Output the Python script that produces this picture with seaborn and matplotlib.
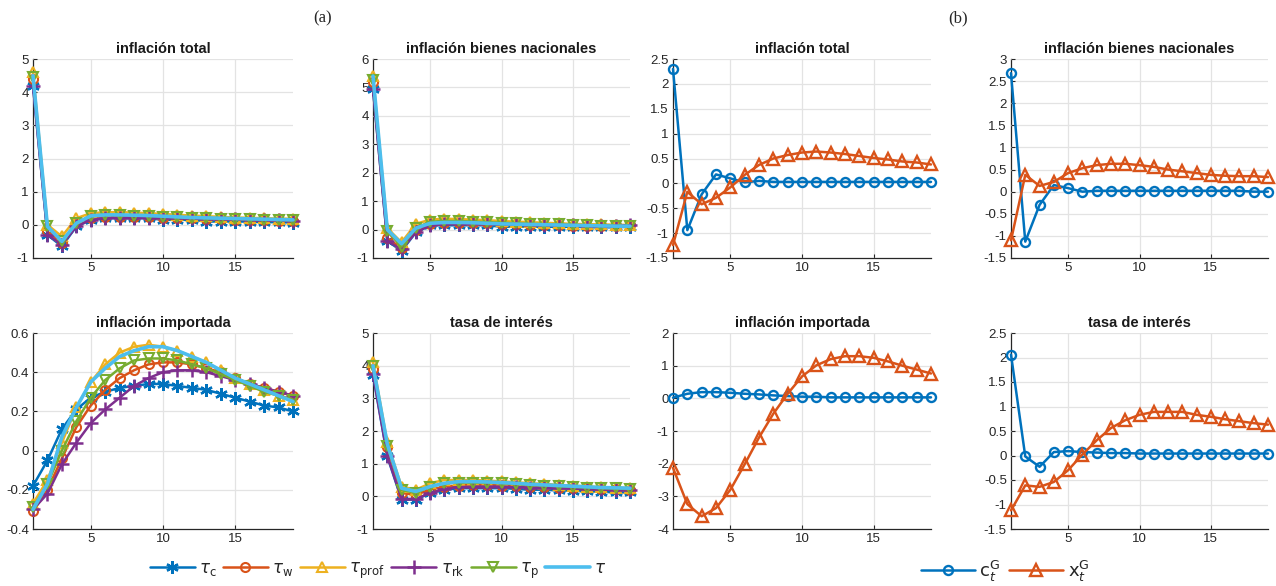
import numpy as np
import pandas as pd
import matplotlib
matplotlib.use("Agg")
import matplotlib.pyplot as plt
import seaborn as sns

# ---------------- data ----------------
periods = list(range(1, 20))

# (a) panel: inflación total
a_total_c    = [4.2, -0.3, -0.65, -0.05, 0.15, 0.2, 0.2, 0.2, 0.2, 0.15, 0.15, 0.15, 0.1, 0.1, 0.1, 0.1, 0.08, 0.08, 0.07]
a_total_w    = [4.4, -0.2, -0.55, 0.05, 0.22, 0.25, 0.25, 0.25, 0.25, 0.22, 0.2, 0.2, 0.18, 0.17, 0.16, 0.15, 0.14, 0.13, 0.12]
a_total_prof = [4.6, 0.0, -0.35, 0.2, 0.35, 0.38, 0.38, 0.37, 0.35, 0.33, 0.3, 0.28, 0.26, 0.24, 0.22, 0.21, 0.2, 0.19, 0.18]
a_total_rk   = [4.2, -0.3, -0.6, -0.05, 0.15, 0.2, 0.22, 0.22, 0.22, 0.2, 0.2, 0.2, 0.18, 0.18, 0.17, 0.16, 0.15, 0.14, 0.13]
a_total_p    = [4.45, -0.05, -0.5, 0.05, 0.28, 0.3, 0.3, 0.28, 0.27, 0.25, 0.23, 0.22, 0.2, 0.19, 0.18, 0.17, 0.16, 0.15, 0.14]
a_total_tau  = [4.5, -0.05, -0.5, 0.05, 0.27, 0.3, 0.3, 0.29, 0.28, 0.26, 0.24, 0.22, 0.21, 0.2, 0.19, 0.18, 0.17, 0.16, 0.15]

# (a) panel: inflación bienes nacionales
a_nac_c    = [4.95, -0.4, -0.75, -0.1, 0.15, 0.15, 0.15, 0.15, 0.15, 0.1, 0.1, 0.1, 0.1, 0.1, 0.1, 0.08, 0.08, 0.08, 0.1]
a_nac_w    = [5.2, -0.3, -0.65, 0.0, 0.2, 0.22, 0.22, 0.22, 0.22, 0.2, 0.18, 0.17, 0.16, 0.15, 0.14, 0.13, 0.12, 0.12, 0.15]
a_nac_prof = [5.4, 0.05, -0.45, 0.2, 0.35, 0.38, 0.37, 0.35, 0.33, 0.3, 0.28, 0.26, 0.24, 0.22, 0.2, 0.19, 0.18, 0.17, 0.16]
a_nac_rk   = [4.95, -0.4, -0.7, -0.1, 0.15, 0.2, 0.2, 0.2, 0.2, 0.18, 0.18, 0.17, 0.16, 0.16, 0.15, 0.14, 0.13, 0.13, 0.15]
a_nac_p    = [5.25, -0.05, -0.6, 0.05, 0.28, 0.3, 0.3, 0.28, 0.26, 0.24, 0.22, 0.2, 0.19, 0.18, 0.16, 0.15, 0.14, 0.13, 0.12]
a_nac_tau  = [5.4, 0.0, -0.5, 0.05, 0.22, 0.25, 0.25, 0.24, 0.22, 0.2, 0.19, 0.18, 0.17, 0.16, 0.15, 0.14, 0.13, 0.12, 0.12]

# (a) panel: inflación importada
a_imp_c    = [-0.18, -0.05, 0.11, 0.21, 0.27, 0.30, 0.32, 0.33, 0.34, 0.34, 0.33, 0.32, 0.31, 0.29, 0.27, 0.25, 0.23, 0.22, 0.20]
a_imp_w    = [-0.31, -0.2, -0.04, 0.12, 0.23, 0.31, 0.37, 0.41, 0.44, 0.45, 0.45, 0.44, 0.42, 0.40, 0.37, 0.34, 0.32, 0.30, 0.28]
a_imp_prof = [-0.27, -0.15, 0.04, 0.22, 0.35, 0.44, 0.50, 0.53, 0.54, 0.53, 0.51, 0.48, 0.45, 0.41, 0.37, 0.34, 0.31, 0.28, 0.26]
a_imp_rk   = [-0.30, -0.22, -0.07, 0.04, 0.14, 0.21, 0.27, 0.33, 0.37, 0.40, 0.41, 0.41, 0.40, 0.38, 0.36, 0.34, 0.32, 0.30, 0.28]
a_imp_p    = [-0.29, -0.17, 0.0, 0.15, 0.27, 0.36, 0.42, 0.46, 0.47, 0.47, 0.46, 0.44, 0.42, 0.39, 0.36, 0.33, 0.30, 0.28, 0.26]
a_imp_tau  = [-0.30, -0.17, 0.07, 0.22, 0.35, 0.42, 0.48, 0.51, 0.53, 0.53, 0.51, 0.48, 0.45, 0.41, 0.37, 0.34, 0.31, 0.28, 0.25]

# (a) panel: tasa de interés
a_int_c    = [3.72, 1.22, -0.1, -0.1, 0.1, 0.2, 0.25, 0.25, 0.25, 0.25, 0.23, 0.2, 0.2, 0.18, 0.17, 0.15, 0.14, 0.12, 0.12]
a_int_w    = [3.9, 1.5, 0.1, 0.05, 0.2, 0.3, 0.33, 0.35, 0.35, 0.33, 0.32, 0.3, 0.28, 0.26, 0.25, 0.24, 0.22, 0.21, 0.2]
a_int_prof = [4.1, 1.65, 0.3, 0.2, 0.4, 0.5, 0.5, 0.5, 0.48, 0.46, 0.43, 0.4, 0.38, 0.35, 0.33, 0.3, 0.28, 0.27, 0.25]
a_int_rk   = [3.75, 1.25, -0.08, -0.08, 0.1, 0.22, 0.28, 0.3, 0.3, 0.3, 0.28, 0.27, 0.26, 0.25, 0.24, 0.22, 0.21, 0.2, 0.19]
a_int_p    = [3.98, 1.55, 0.2, 0.1, 0.3, 0.4, 0.42, 0.42, 0.42, 0.4, 0.38, 0.35, 0.33, 0.31, 0.29, 0.27, 0.25, 0.24, 0.22]
a_int_tau  = [4.0, 1.6, 0.25, 0.15, 0.3, 0.4, 0.45, 0.45, 0.44, 0.42, 0.4, 0.37, 0.35, 0.33, 0.31, 0.29, 0.27, 0.26, 0.25]

# (b) panels
b_total_c = [2.3, -0.94, -0.22, 0.18, 0.1, 0.02, 0.05, 0.03, 0.03, 0.03, 0.03, 0.03, 0.03, 0.03, 0.03, 0.03, 0.03, 0.03, 0.03]
b_total_x = [-1.24, -0.17, -0.42, -0.29, -0.08, 0.17, 0.37, 0.5, 0.57, 0.62, 0.64, 0.62, 0.59, 0.55, 0.51, 0.48, 0.44, 0.42, 0.38]
b_nac_c   = [2.68, -1.13, -0.3, 0.15, 0.08, 0.0, 0.02, 0.02, 0.02, 0.02, 0.02, 0.02, 0.02, 0.02, 0.02, 0.02, 0.02, 0.0, 0.0]
b_nac_x   = [-1.1, 0.38, 0.13, 0.22, 0.42, 0.53, 0.6, 0.63, 0.63, 0.6, 0.56, 0.5, 0.46, 0.42, 0.38, 0.36, 0.35, 0.35, 0.33]
b_imp_c   = [0.02, 0.14, 0.19, 0.19, 0.17, 0.14, 0.12, 0.09, 0.07, 0.05, 0.05, 0.03, 0.03, 0.03, 0.03, 0.03, 0.03, 0.03, 0.03]
b_imp_x   = [-2.13, -3.24, -3.61, -3.36, -2.8, -2.02, -1.2, -0.47, 0.14, 0.67, 1.01, 1.2, 1.29, 1.29, 1.24, 1.13, 1.0, 0.88, 0.76]
b_int_c   = [2.06, -0.02, -0.23, 0.07, 0.09, 0.07, 0.06, 0.05, 0.05, 0.04, 0.04, 0.04, 0.04, 0.04, 0.04, 0.04, 0.04, 0.04, 0.04]
b_int_x   = [-1.12, -0.61, -0.64, -0.54, -0.3, 0.02, 0.31, 0.56, 0.72, 0.83, 0.89, 0.89, 0.89, 0.83, 0.79, 0.74, 0.7, 0.66, 0.63]

titles = ["inflación total", "inflación bienes nacionales", "inflación importada", "tasa de interés"]
a_labels = [r"$\tau_{\rm c}$", r"$\tau_{\rm w}$", r"$\tau_{\rm prof}$", r"$\tau_{\rm rk}$", r"$\tau_{\rm p}$", r"$\tau$"]
b_labels = [r"${\rm c}_t^{\rm G}$", r"${\rm x}_t^{\rm G}$"]

# ---------------- style ----------------
sns.set_theme(style="whitegrid")
plt.rcParams["font.family"] = ["Liberation Sans", "DejaVu Sans"]
plt.rcParams["mathtext.fontset"] = "dejavusans"

c_blue, c_orange, c_yellow, c_purple, c_green, c_cyan = (
    "#0072BD", "#D95319", "#EDB120", "#7E2F8E", "#77AC30", "#4DBEEE")
a_styles = [
    dict(color=c_blue, marker=(6, 2, 0), markersize=9, markeredgewidth=1.7, linewidth=1.8,
         markerfacecolor=c_blue, markeredgecolor=c_blue),
    dict(color=c_orange, marker="o", markersize=6.5, markeredgewidth=1.5, linewidth=1.8,
         markerfacecolor="none", markeredgecolor=c_orange),
    dict(color=c_yellow, marker="^", markersize=7.5, markeredgewidth=1.5, linewidth=1.8,
         markerfacecolor="none", markeredgecolor=c_yellow),
    dict(color=c_purple, marker="+", markersize=10, markeredgewidth=1.8, linewidth=1.8,
         markerfacecolor=c_purple, markeredgecolor=c_purple),
    dict(color=c_green, marker="v", markersize=7.5, markeredgewidth=1.5, linewidth=1.8,
         markerfacecolor="none", markeredgecolor=c_green),
    dict(color=c_cyan, marker="None", linewidth=2.6),
]
b_styles = [
    dict(color=c_blue, marker="o", markersize=6.5, markeredgewidth=1.7, linewidth=1.8,
         markerfacecolor="none", markeredgecolor=c_blue),
    dict(color=c_orange, marker="^", markersize=8.5, markeredgewidth=1.7, linewidth=1.8,
         markerfacecolor="none", markeredgecolor=c_orange),
]

W, H = 1276, 586
fig = plt.figure(figsize=(W / 100, H / 100), dpi=100)

def make_ax(left, right, top, bottom):
    return fig.add_axes([left / W, 1 - bottom / H, (right - left) / W, (bottom - top) / H])

cols = [(33, 293), (373, 630), (673, 931), (1011, 1268)]
rows = [(59, 258), (333, 529)]

a_data = [
    [a_total_c, a_total_w, a_total_prof, a_total_rk, a_total_p, a_total_tau],
    [a_nac_c, a_nac_w, a_nac_prof, a_nac_rk, a_nac_p, a_nac_tau],
    [a_imp_c, a_imp_w, a_imp_prof, a_imp_rk, a_imp_p, a_imp_tau],
    [a_int_c, a_int_w, a_int_prof, a_int_rk, a_int_p, a_int_tau],
]
b_data = [
    [b_total_c, b_total_x],
    [b_nac_c, b_nac_x],
    [b_imp_c, b_imp_x],
    [b_int_c, b_int_x],
]
a_ylims = [(-1, 5, 1), (-1, 6, 1), (-0.4, 0.6, 0.2), (-1, 5, 1)]
b_ylims = [(-1.5, 2.5, 0.5), (-1.5, 3, 0.5), (-4, 2, 1), (-1.5, 2.5, 0.5)]
a_pos = [(0, 0), (0, 1), (1, 0), (1, 1)]
b_pos = [(0, 2), (0, 3), (1, 2), (1, 3)]

def style_ax(ax, title, ylim):
    lo, hi, step = ylim
    ax.set_xlim(1, 19)
    ax.set_ylim(lo, hi)
    ax.set_xticks([5, 10, 15])
    yt = np.round(np.arange(lo, hi + step / 2, step), 6)
    ax.set_yticks(yt)
    ax.set_yticklabels([f"{v:g}" for v in yt])
    ax.set_xlabel("")
    ax.set_ylabel("")
    ax.grid(True, color="#e3e3e3", lw=0.9)
    ax.set_axisbelow(True)
    for s in ["top", "right"]:
        ax.spines[s].set_visible(False)
    for s in ["left", "bottom"]:
        ax.spines[s].set_visible(True)
        ax.spines[s].set_color("#262626")
        ax.spines[s].set_linewidth(0.9)
        ax.spines[s].set_zorder(0.5)
    ax.tick_params(axis="both", direction="in", length=3, width=0.8, colors="#262626",
                   labelsize=9.5, pad=3, left=True, bottom=True)
    ax.set_title(title, fontsize=10.5, fontweight="bold", pad=4, color="#1a1a1a")
    if ax.get_legend() is not None:
        ax.get_legend().remove()

def draw_panel(ax, series_list, styles):
    lines = []
    for series in series_list:
        df = pd.DataFrame({"t": periods, "v": series})
        sns.lineplot(data=df, x="t", y="v", ax=ax, legend=False)
        lines.append(ax.lines[-1])
    for ln, st in zip(lines, styles):
        ln.set_linestyle("-")
        ln.set(**st)
        ln.set_clip_on(False)
    return lines

a_handles = None
for i in range(4):
    r, c = a_pos[i]
    ax = make_ax(cols[c][0], cols[c][1], rows[r][0], rows[r][1])
    lines = draw_panel(ax, a_data[i], a_styles)
    if a_handles is None:
        a_handles = lines
    style_ax(ax, titles[i], a_ylims[i])

b_handles = None
for i in range(4):
    r, c = b_pos[i]
    ax = make_ax(cols[c][0], cols[c][1], rows[r][0], rows[r][1])
    lines = draw_panel(ax, b_data[i], b_styles)
    if b_handles is None:
        b_handles = lines
    style_ax(ax, titles[i], b_ylims[i])

fig.legend(a_handles, a_labels, loc="center", bbox_to_anchor=(378 / W, 1 - 571 / H), ncol=6,
           frameon=False, fontsize=12, handlelength=2.7, columnspacing=0.4, handletextpad=0.25)
fig.legend(b_handles, b_labels, loc="center", bbox_to_anchor=(1005 / W, 1 - 571 / H), ncol=2,
           frameon=False, fontsize=13, handlelength=3.0, columnspacing=0.5, handletextpad=0.25)

fig.text(323 / W, 1 - 18 / H, "(a)", ha="center", va="center", fontsize=12,
         family=["Liberation Serif", "DejaVu Serif"])
fig.text(958 / W, 1 - 18 / H, "(b)", ha="center", va="center", fontsize=12,
         family=["Liberation Serif", "DejaVu Serif"])

fig.savefig("out.png", dpi=100, facecolor="white")
